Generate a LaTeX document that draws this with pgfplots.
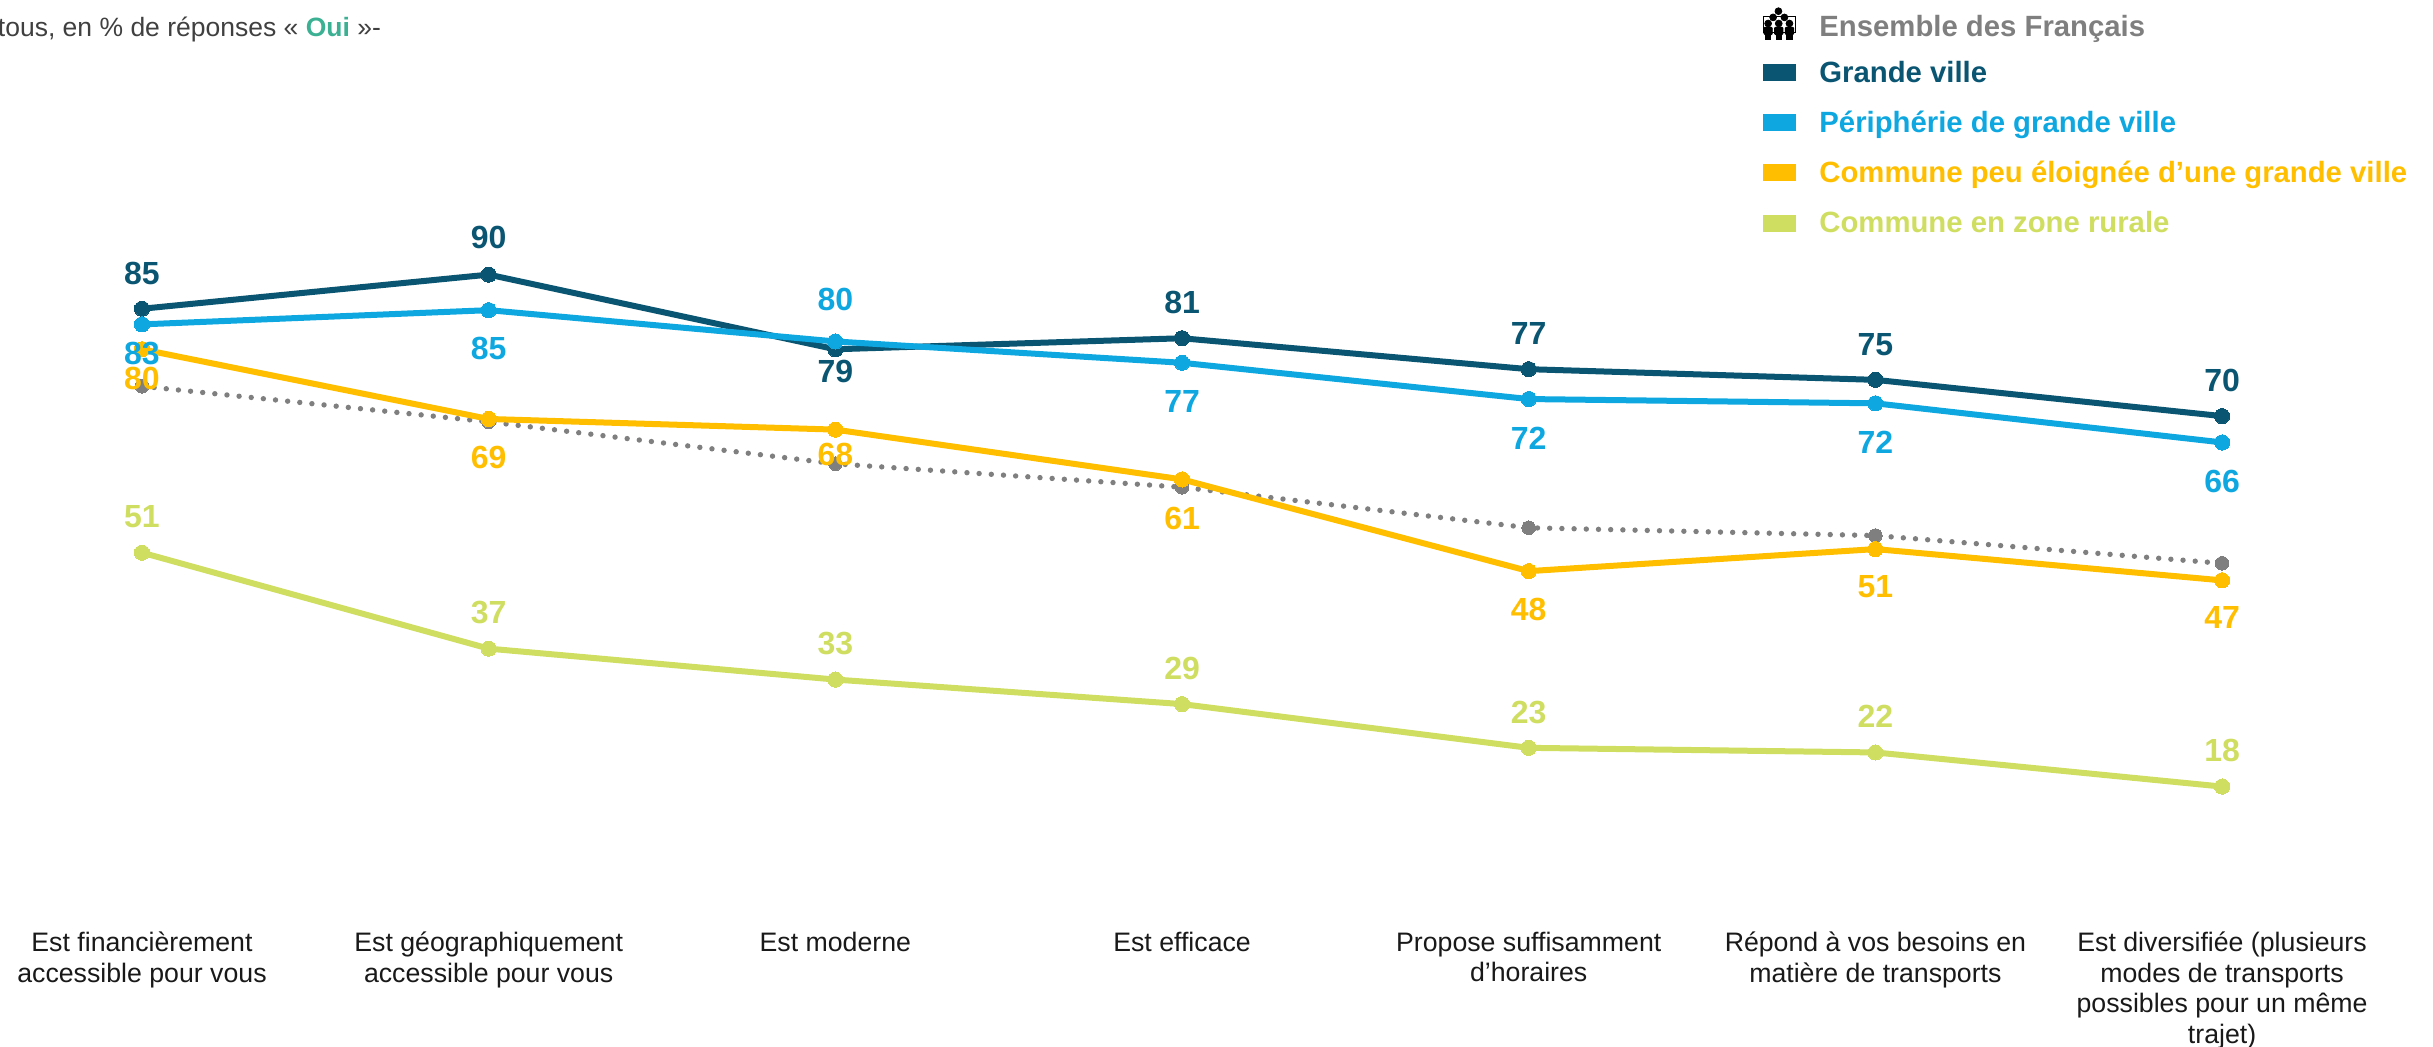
\documentclass[border=0pt]{standalone}
\usepackage{fontspec}
\setmainfont{Liberation Sans}
\usepackage{xcolor}
\usepackage{pgfplots}
\usepackage{pgfplotstable}
\pgfplotsset{compat=1.18}

\definecolor{cEns}{HTML}{7F7F7F}
\definecolor{cGV}{HTML}{0A5572}
\definecolor{cPer}{HTML}{0EA7E0}
\definecolor{cPeu}{HTML}{FFBF00}
\definecolor{cRur}{HTML}{CFDD60}
\definecolor{cOui}{HTML}{3CB093}

% x, height, printed label, label offset (+ above, - below)
\pgfplotstableread{
x y
0 74.3
1 69.3
2 63.4
3 60.1
4 54.4
5 53.3
6 49.4
}\tabEns
\pgfplotstableread{
x y lab s
0 85.2 85 0.92
1 90.0 90 0.96
2 79.5 79 -0.56
3 81.05 81 0.92
4 76.7 77 0.92
5 75.2 75 0.92
6 70.1 70 0.92
}\tabGV
\pgfplotstableread{
x y lab s
0 83.0 83 -0.76
1 85.0 85 -1
2 80.6 80 1.08
3 77.6 77 -1
4 72.5 72 -1
5 71.9 72 -1
6 66.4 66 -1
}\tabPer
\pgfplotstableread{
x y lab s
0 79.5 80 -0.76
1 69.7 69 -1
2 68.2 68 -0.64
3 61.2 61 -1
4 48.3 48 -1
5 51.4 51 -0.96
6 47.0 47 -0.96
}\tabPeu
\pgfplotstableread{
x y lab s
0 50.9 51 0.92
1 37.4 37 0.92
2 33.05 33 0.92
3 29.6 29 0.92
4 23.45 23 0.92
5 22.8 22 0.92
6 18.0 18 0.92
}\tabRur

% every legend row gets the same height; the first one sits a little lower
\newcommand{\ligne}[2]{\textcolor{#1}{\vphantom{Égç}#2}}
\newcommand{\premiere}[2]{\raisebox{-2.3pt}[10.9pt][3.1pt]{\textcolor{#1}{#2}}}

\pgfplotsset{
  serie/.style={
    forget plot,
    draw=#1, line width=3pt, mark=*,
    mark options={fill=#1, draw=#1, line width=0pt, solid},
    mark size=3.8pt,
    point meta=explicit,
    visualization depends on={\thisrow{s} \as \cote},
    nodes near coords,
    nodes near coords style={anchor=center, yshift=\cote*19.4pt,
      text=#1, font=\fontsize{16}{18}\selectfont\bfseries,
      /pgf/number format/assume math mode=true},
  },
  carre/.style={
    legend image code/.code={\fill[#1] (0pt,-4.8pt) rectangle (16pt,3.2pt);},
  },
}

\begin{document}
\begin{tikzpicture}
\useasboundingbox (0,0) rectangle (1216.5pt,523pt);
\begin{axis}[
  at={(0pt,73pt)},
  scale only axis,
  width=1216.5pt,
  height=450pt,
  xmin=-0.4096, xmax=6.6086,
  ymin=2.05, ymax=128.62,
  clip=false,
  axis line style={draw=none},
  tick style={draw=none},
  ytick=\empty,
  xtick={0,1,2,3,4,5,6},
  xticklabels={
    {Est financièrement\\accessible pour vous},
    {Est géographiquement\\accessible pour vous},
    {Est moderne},
    {Est efficace},
    {Propose suffisamment\\d’horaires},
    {Répond à vos besoins en\\matière de transports},
    {Est diversifiée (plusieurs\\modes de transports\\possibles pour un même\\trajet)}
  },
  xticklabel style={align=center, anchor=north, yshift=-12.3pt, text=black!90,
    font=\fontsize{13.35}{15.4}\selectfont},
  legend cell align=left,
  legend style={at={(1763/2433,1.0)}, anchor=north west, draw=none, fill=none,
    inner sep=0pt, outer sep=0pt, yshift=-3.2pt,
    font=\fontsize{14.65}{16}\selectfont\bfseries,
    /tikz/row sep=6.6pt,
    /tikz/every odd column/.style={column sep=9.8pt}},
]
% legend first, so that it keeps its own order whatever the drawing order is
\addlegendimage{legend image code/.code={
    \path (0pt,-4.8pt) rectangle (16pt,3.2pt);
    \begin{scope}[overlay,yshift=-2.5pt]
      \foreach \px/\py in {7.5/8.3, 4.85/5.2, 10.5/5.2}
        \fill[black] (\px pt,\py pt) circle (1.7pt);
      \foreach \px in {2.35,7.65,13}{
        \fill[black] (\px pt,2.15pt) circle (1.7pt);
        \fill[black,rounded corners=0.5pt] (\px pt-2.1pt,-3.4pt) rectangle (\px pt+2.1pt,0.3pt);
        \fill[black] (\px pt-1.3pt,-6pt) rectangle (\px pt+1.3pt,-3pt);
      }
    \end{scope}
  }}
\addlegendentry{\premiere{cEns}{Ensemble des Français}}
\addlegendimage{carre=cGV}
\addlegendentry{\ligne{cGV}{Grande ville}}
\addlegendimage{carre=cPer}
\addlegendentry{\ligne{cPer}{Périphérie de grande ville}}
\addlegendimage{carre=cPeu}
\addlegendentry{\ligne{cPeu}{Commune peu éloignée d’une grande ville}}
\addlegendimage{carre=cRur}
\addlegendentry{\ligne{cRur}{Commune en zone rurale}}

\addplot[forget plot, draw=cEns, line width=2.7pt, line cap=round, dash pattern=on 0pt off 6.1pt,
  mark=*, mark options={solid, fill=cEns, draw=cEns, line width=0pt}, mark size=3.4pt]
  table[x=x,y=y] {\tabEns};
\addplot[serie=cRur] table[x=x,y=y,meta=lab] {\tabRur};
\addplot[serie=cPeu] table[x=x,y=y,meta=lab] {\tabPeu};
\addplot[serie=cGV] table[x=x,y=y,meta=lab] {\tabGV};
\addplot[serie=cPer] table[x=x,y=y,meta=lab] {\tabPer};

\node[anchor=west, inner sep=0pt, text=black!75, font=\fontsize{13.25}{15}\selectfont]
  at (axis description cs:-0.001,0.9667)
  {tous, en \% de réponses « \textcolor{cOui}{\textbf{Oui}} »-};
\end{axis}
\end{tikzpicture}
\end{document}
